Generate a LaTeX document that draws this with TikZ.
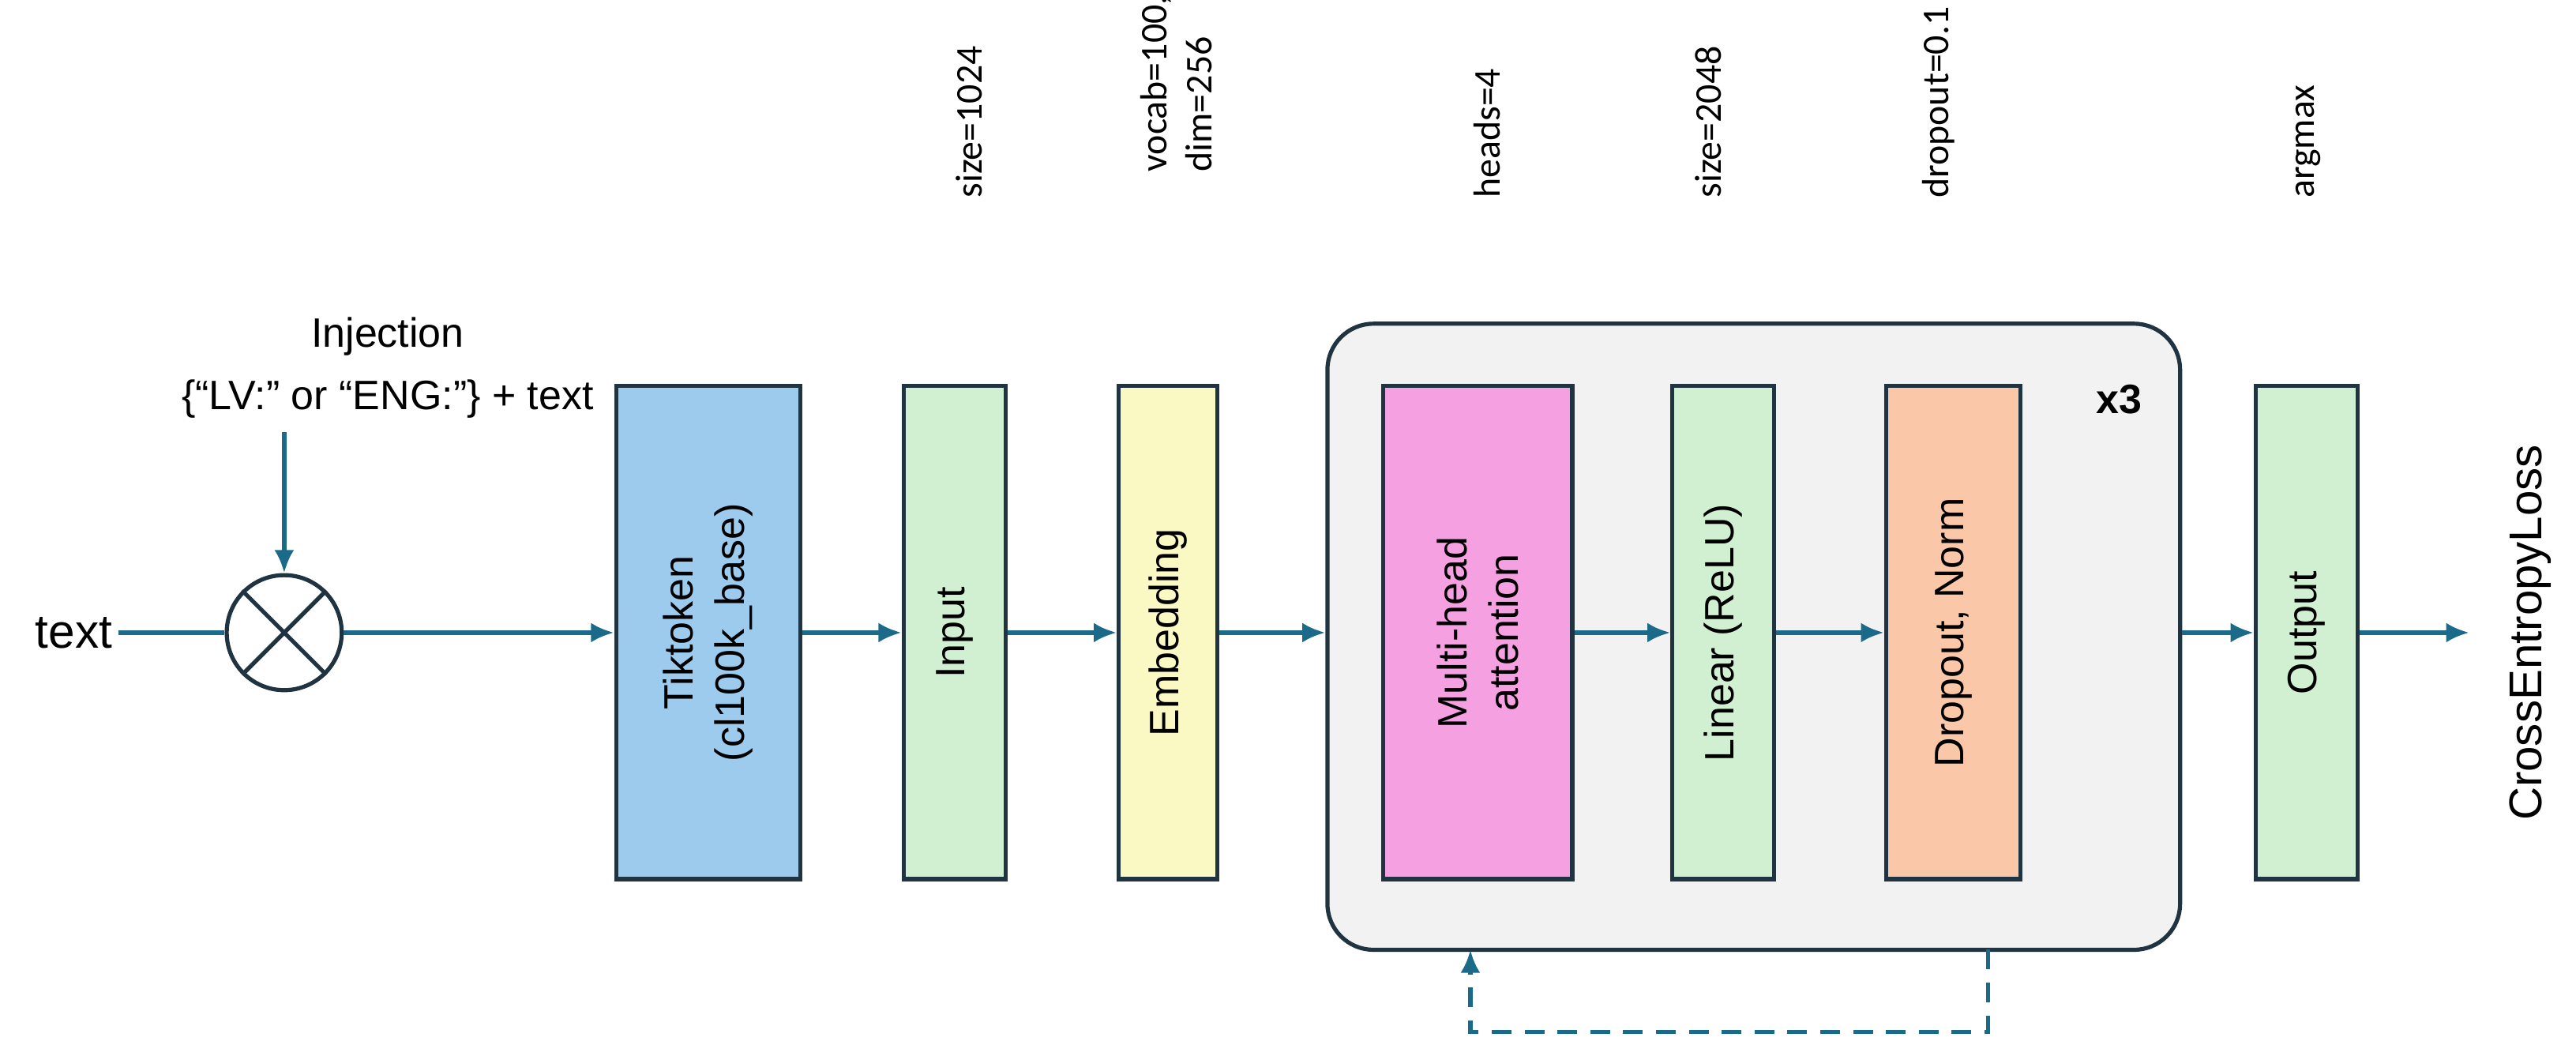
\documentclass[tikz,border=0pt]{standalone}
\usepackage{fontspec}
\setmainfont{Liberation Sans}
\newfontfamily\topf{Carlito}
\usetikzlibrary{arrows.meta}
\definecolor{lc}{HTML}{1B6A8A}
\definecolor{bd}{HTML}{1F3340}
\begin{document}
\begin{tikzpicture}[x=1pt,y=-1pt,
  blk/.style={draw=bd,line width=2.5pt,minimum height=300pt},
  lab/.style={font=\fontsize{25}{30}\selectfont},
  inb/.style={font=\fontsize{25}{31}\selectfont,rotate=90,align=center},
  top/.style={font=\topf\fontsize{23}{27}\selectfont,rotate=90,anchor=west,align=left},
  ar/.style={draw=lc,line width=2.5pt,-{Latex[length=14pt,width=12pt]}}]
\useasboundingbox (0,0) rectangle (1568,645);
\fill[white] (0,0) rectangle (1568,645);
\node[draw=bd,line width=2.5pt,fill=gray!10,rounded corners=28pt,minimum width=519pt,minimum height=381pt] (big) at (1067.5,387.5) {};
\node[blk,fill={rgb,255:red,157;green,203;blue,238},minimum width=112pt] (tik) at (431,385) {};
\node[inb] at (tik) {Tiktoken\\(cl100k\_base)};
\node[blk,fill={rgb,255:red,209;green,240;blue,209},minimum width=62pt] (inp) at (581,385) {};
\node[inb] at (inp) {Input};
\node[blk,fill={rgb,255:red,250;green,248;blue,195},minimum width=60pt] (emb) at (711,385) {};
\node[inb] at (emb) {Embedding};
\node[blk,fill={rgb,255:red,245;green,160;blue,224},minimum width=115pt] (mha) at (899.5,385) {};
\node[inb] at (mha) {Multi-head\\attention};
\node[blk,fill={rgb,255:red,209;green,240;blue,209},minimum width=62pt] (lin) at (1049,385) {};
\node[inb] at (lin) {Linear (ReLU)};
\node[blk,fill={rgb,255:red,250;green,200;blue,168},minimum width=82pt] (drp) at (1189,385) {};
\node[inb] at (drp) {Dropout, Norm};
\node[blk,fill={rgb,255:red,209;green,240;blue,209},minimum width=62pt] (out) at (1404,385) {};
\node[inb] at (out) {Output};
\node[font=\fontsize{25}{30}\selectfont\bfseries] (x3) at (1290,243) {x3};
\node[font=\fontsize{29}{34}\selectfont] (txt) at (45,385) {text};
\node[circle,draw=bd,line width=2.5pt,minimum size=70pt,inner sep=0] (mul) at (173,385) {};
\draw[bd,line width=2.5pt] (mul.north west) -- (mul.south east) (mul.north east) -- (mul.south west);
\node[lab] (inj1) at (236,205) {Injection};
\node[lab] (inj2) at (236,243) {\{“LV:” or “ENG:”\} + text};
\coordinate (injs) at (173,263);
\coordinate (end) at (1503,385);
\node[font=\fontsize{28}{32}\selectfont,rotate=90] (cel) at (1540,385) {CrossEntropyLoss};
\draw[draw=lc,line width=2.5pt] (txt.east) -- (mul.west);
\draw[ar] (injs) -- (mul.north);
\draw[ar] (mul.east) -- (tik.west);
\draw[ar] (tik.east) -- (inp.west);
\draw[ar] (inp.east) -- (emb.west);
\draw[ar] (emb.east) -- (emb.east -| big.west);
\draw[ar] (mha.east) -- (lin.west);
\draw[ar] (lin.east) -- (drp.west);
\draw[ar] (big.east |- out) -- (out.west);
\draw[ar] (out.east) -- (end);
\coordinate (d1) at (1210,578);
\coordinate (d2) at (895,578);
\draw[ar,dashed,dash pattern=on 12pt off 8pt] (d1) -- ++(0,50) -| (d2);
\node[top] (t1) at (590,124) {size=1024};
\node[top] (t2) at (716,108) {vocab=100,256\\dim=256};
\node[top] (t3) at (905,124) {heads=4};
\node[top] (t4) at (1040,124) {size=2048};
\node[top] (t5) at (1180,124) {dropout=0.1};
\node[top] (t6) at (1405,124) {argmax};
\end{tikzpicture}
\end{document}
